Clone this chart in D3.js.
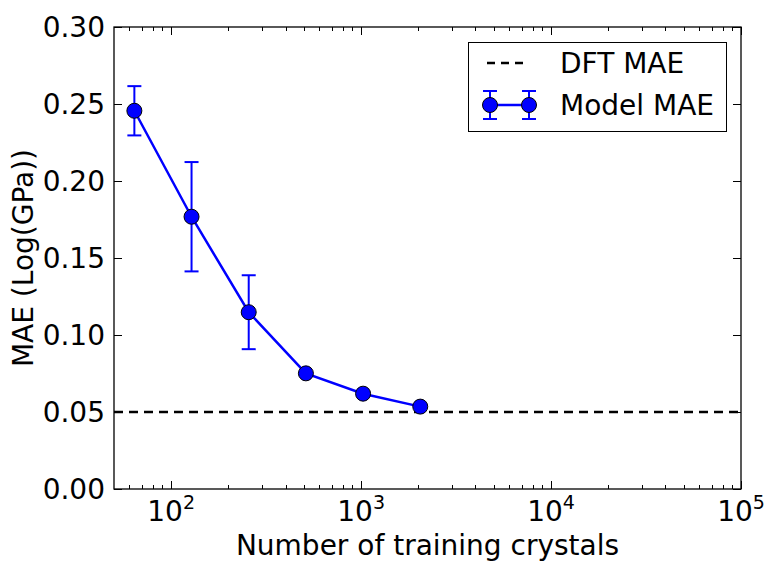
<!DOCTYPE html>
<html><head><meta charset="utf-8">
<script src="https://cdnjs.cloudflare.com/ajax/libs/d3/7.8.5/d3.min.js"></script>
<style>body{margin:0;background:#fff}text{font-family:"DejaVu Sans",sans-serif}</style>
</head><body><svg id="c" width="766" height="561"></svg>
<script>
const trainSizes = [64, 128, 256, 512, 1024, 2048];
const modelMAE = [0.2456, 0.1768, 0.1148, 0.0751, 0.0619, 0.0535];
const modelErr = [0.016, 0.0355, 0.024, 0, 0, 0];
const dftMAE = 0.05;
const yTicks = [0, 0.05, 0.10, 0.15, 0.20, 0.25, 0.30];
const xTickExps = [2, 3, 4, 5];
const legendLabels = ["DFT MAE", "Model MAE"];

const svg = d3.select("#c");
const L = 114, R = 741, T = 27, B = 489;
const x = d3.scaleLog().domain([50, 1e5]).range([L, R]);
const y = d3.scaleLinear().domain([0, 0.30]).range([B, T]);
const FS = 28;

// frame
svg.append("rect").attr("x", L).attr("y", T).attr("width", R - L).attr("height", B - T)
  .attr("fill", "none").attr("stroke", "#000").attr("stroke-width", 1.3);

// y ticks (inward, both sides)
const g = svg.append("g");
yTicks.forEach(v => {
  const yy = Math.round(y(v)) + 0.5;
  g.append("line").attr("x1", L).attr("x2", L + 8).attr("y1", yy).attr("y2", yy).attr("stroke", "#000");
  g.append("line").attr("x1", R - 8).attr("x2", R).attr("y1", yy).attr("y2", yy).attr("stroke", "#000");
  g.append("text").attr("x", L - 9).attr("y", y(v)).attr("dy", "0.36em").attr("text-anchor", "end")
    .attr("font-size", FS).text(v.toFixed(2));
});
// x ticks
const minor = [];
for (let e = 1; e <= 4; e++) for (let m = 2; m <= 9; m++) { const v = m * Math.pow(10, e); if (v > 50 && v < 1e5) minor.push(v); }
minor.forEach(v => {
  const xx = Math.round(x(v)) + 0.5;
  g.append("line").attr("x1", xx).attr("x2", xx).attr("y1", B).attr("y2", B - 4).attr("stroke", "#000");
  g.append("line").attr("x1", xx).attr("x2", xx).attr("y1", T).attr("y2", T + 4).attr("stroke", "#000");
});
xTickExps.forEach(e => {
  const v = Math.pow(10, e), xx = Math.round(x(v)) + 0.5;
  g.append("line").attr("x1", xx).attr("x2", xx).attr("y1", B).attr("y2", B - 8).attr("stroke", "#000");
  g.append("line").attr("x1", xx).attr("x2", xx).attr("y1", T).attr("y2", T + 8).attr("stroke", "#000");
  const t = g.append("text").attr("x", x(v)).attr("y", B + 32).attr("text-anchor", "middle").attr("font-size", FS);
  t.append("tspan").text("10");
  t.append("tspan").attr("font-size", FS * 0.68).attr("dy", -12).text(e);
});

// axis labels
svg.append("text").attr("x", (L + R) / 2).attr("y", 555).attr("text-anchor", "middle")
  .attr("font-size", FS).text("Number of training crystals");
svg.append("text").attr("transform", `translate(33,${(T + B) / 2}) rotate(-90)`).attr("text-anchor", "middle")
  .attr("font-size", FS).text("MAE (Log(GPa))");

// DFT line
svg.append("line").attr("x1", L).attr("x2", R).attr("y1", y(dftMAE)).attr("y2", y(dftMAE))
  .attr("stroke", "#000").attr("stroke-width", 2.5).attr("stroke-dasharray", "9,6");

// data
const data = trainSizes.map((n, i) => ({ n, v: modelMAE[i], e: modelErr[i] }));
const eb = svg.append("g").attr("stroke", "#0000ff").attr("stroke-width", 2);
data.filter(d => d.e > 0).forEach(d => {
  const cx = x(d.n);
  eb.append("line").attr("x1", cx).attr("x2", cx).attr("y1", y(d.v - d.e)).attr("y2", y(d.v + d.e));
  [d.v - d.e, d.v + d.e].forEach(w => eb.append("line").attr("x1", cx - 7).attr("x2", cx + 7).attr("y1", y(w)).attr("y2", y(w)));
});
svg.append("path").datum(data).attr("fill", "none").attr("stroke", "#0000ff").attr("stroke-width", 2.5)
  .attr("d", d3.line().x(d => x(d.n)).y(d => y(d.v)));
svg.append("g").selectAll("circle").data(data).join("circle")
  .attr("cx", d => x(d.n)).attr("cy", d => y(d.v)).attr("r", 7.5)
  .attr("fill", "#0000ff").attr("stroke", "#000").attr("stroke-width", 1);

// legend
const lg = svg.append("g");
lg.append("rect").attr("x", 468.5).attr("y", 42.5).attr("width", 258).attr("height", 89)
  .attr("fill", "#fff").attr("stroke", "#000").attr("stroke-width", 1);
lg.append("line").attr("x1", 487).attr("x2", 529).attr("y1", 63).attr("y2", 63)
  .attr("stroke", "#000").attr("stroke-width", 2.5).attr("stroke-dasharray", "8,6");
lg.append("text").attr("x", 560).attr("y", 63).attr("dy", "0.36em").attr("font-size", FS).text(legendLabels[0]);
lg.append("line").attr("x1", 490).attr("x2", 529).attr("y1", 105).attr("y2", 105).attr("stroke", "#0000ff").attr("stroke-width", 2.5);
[490, 529].forEach(cx => {
  lg.append("line").attr("x1", cx).attr("x2", cx).attr("y1", 91).attr("y2", 119).attr("stroke", "#0000ff").attr("stroke-width", 2);
  [91, 119].forEach(yy => lg.append("line").attr("x1", cx - 7).attr("x2", cx + 7).attr("y1", yy).attr("y2", yy).attr("stroke", "#0000ff").attr("stroke-width", 2));
  lg.append("circle").attr("cx", cx).attr("cy", 105).attr("r", 7.5).attr("fill", "#0000ff").attr("stroke", "#000");
});
lg.append("text").attr("x", 560).attr("y", 105).attr("dy", "0.36em").attr("font-size", FS).text(legendLabels[1]);
</script></body></html>
